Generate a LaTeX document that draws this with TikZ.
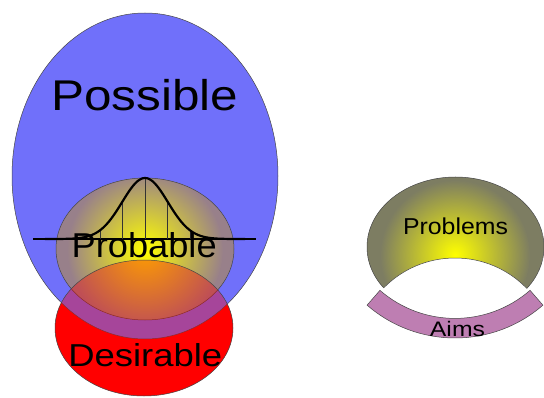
\documentclass[tikz,border=0pt]{standalone}
\usepackage{fontspec}
\setmainfont{Liberation Sans}

\definecolor{possblue}{RGB}{112,112,250}
\definecolor{probedge}{RGB}{152,128,138}
\definecolor{problemsedge}{RGB}{125,125,98}
\definecolor{aimspink}{RGB}{190,126,178}
\definecolor{rimgray}{RGB}{70,70,70}

\begin{document}
\begin{tikzpicture}[
    x=1pt, y=1pt,
    rim/.style={
        draw=rimgray,
        line width=0.5pt
    },
    word/.style={
        inner sep=0pt,
        anchor=base
    },
    bell/.style={
        line width=2.2pt,
        draw=black
    },
    tick/.style={
        line width=0.6pt,
        draw=black!80
    }
]
    \useasboundingbox (0,0) rectangle (544,397);

    % Desirable, solid underneath
    \fill[red] (144,69) ellipse [x radius=89, y radius=68];

    % Possible
    \filldraw[rim, fill=possblue] (145,221) ellipse [x radius=133, y radius=163];

    % Probable
    \begin{scope}
        \clip (145,148) ellipse [x radius=89, y radius=71];
        \fill[probedge] (145,148) ellipse [x radius=89, y radius=71];
        \shade[inner color=yellow, outer color=probedge] (145,147) circle (78);
    \end{scope}
    \draw[rim] (145,148) ellipse [x radius=89, y radius=71];

    % Bell curve
    \draw[bell] (33,158) -- (256,158);
    \foreach \dx in {-45,-22.5,0,22.5,45}
        \draw[tick] ({145+\dx},158) -- ({145+\dx},{158+61*exp(-(\dx)^2/1040)});
    \draw[bell] plot[domain=-100:100, samples=101, smooth] ({145+\x},{158+61*exp(-(\x)^2/1040)});

    % Desirable, see-through on top
    \filldraw[rim, fill=red, fill opacity=0.38] (144,69) ellipse [x radius=89, y radius=68];

    % Problems
    \begin{scope}
        \clip (455.5,150) ellipse [x radius=88.5, y radius=70];
        \fill[problemsedge] (455.5,150) ellipse [x radius=88.5, y radius=70];
        \shade[inner color=yellow, outer color=problemsedge] (455,142) circle (75);
    \end{scope}
    \draw[rim] (455.5,150) ellipse [x radius=88.5, y radius=70];
    \fill[white] (455,39) circle (100);
    \begin{scope}
        \clip (455.5,150) ellipse [x radius=88.5, y radius=70];
        \draw[rim] (455,39) circle (100);
    \end{scope}

    % Aims
    \filldraw[rim, fill=aimspink] (455,193) ++(229:114.4)
        arc[start angle=229, end angle=311, radius=114.4] -- ++(311:19.6)
        arc[start angle=311, end angle=229, radius=134] -- cycle;

    % Texts
    \node[word, font=\fontsize{43}{43}\selectfont, xscale=1.15] (possible) at (144.7,286.3) {Possible};
    \node[word, font=\fontsize{34.5}{35}\selectfont, xscale=1.05] (probable) at (144.2,139.3) {Probable};
    \node[word, font=\fontsize{31.7}{32}\selectfont, xscale=1.15] (desirable) at (145.3,31) {Desirable};
    \node[word, font=\fontsize{23}{23}\selectfont, xscale=1.08] (problems) at (455.5,163) {Problems};
    \node[word, font=\fontsize{21}{21}\selectfont, xscale=1.18] (aims) at (457.5,60.3) {Aims};
\end{tikzpicture}
\end{document}
